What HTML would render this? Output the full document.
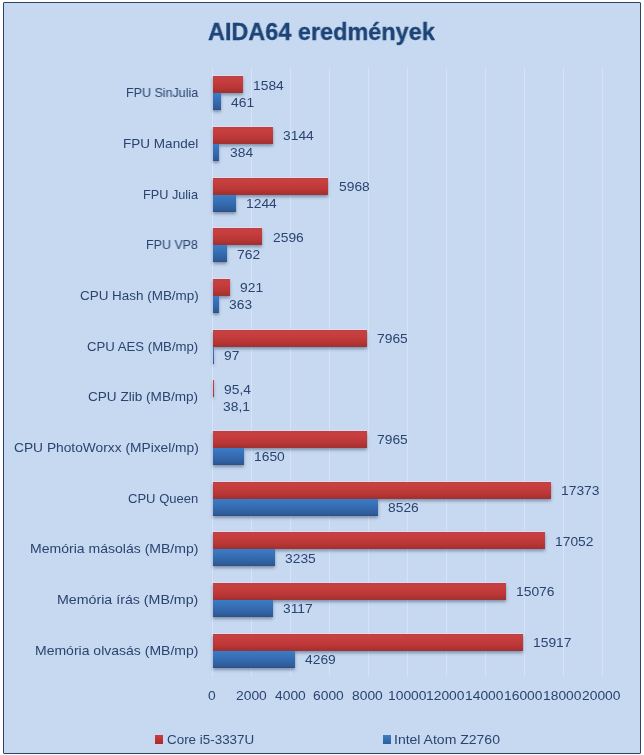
<!DOCTYPE html><html><head><meta charset="utf-8"><style>
html,body{margin:0;padding:0;background:#fff;width:644px;height:755px;overflow:hidden}
.t{position:absolute;font-family:"Liberation Sans",sans-serif;line-height:0;height:0;white-space:nowrap;transform-origin:0 0;will-change:transform}
.frame{position:absolute;left:3px;top:2px;width:636px;height:750px;border:1px solid #2b4365;border-radius:1px;background:#c7d9f1}
.g{position:absolute;top:68.0px;height:608.0px;width:1px;background:#d5e3fa}
.r{position:absolute;background:linear-gradient(#9a4852,#c84141 1px,#c53d3d 35%,#b93636 70%,#a8302d 92%,#8f3a42);box-shadow:0 -1px 0 rgba(250,215,235,.75),0 2px 3px rgba(40,55,85,.45)}
.b{position:absolute;background:linear-gradient(#3c7ac4,#3a77c0 15%,#346bb0 50%,#2f5c9a 88%,#2b4f82);box-shadow:0 2px 3px rgba(40,55,85,.45)}
</style></head><body>
<div class="frame"></div>
<div class="g" style="left:212.40px"></div>
<div class="g" style="left:251.35px"></div>
<div class="g" style="left:290.30px"></div>
<div class="g" style="left:329.25px"></div>
<div class="g" style="left:368.20px"></div>
<div class="g" style="left:407.15px"></div>
<div class="g" style="left:446.10px"></div>
<div class="g" style="left:485.05px"></div>
<div class="g" style="left:524.00px"></div>
<div class="g" style="left:562.95px"></div>
<div class="g" style="left:601.90px"></div>
<div class="r" style="left:213.00px;top:76.44px;width:29.72px;height:16.89px"></div>
<div class="b" style="left:213.00px;top:93.33px;width:7.80px;height:16.89px"></div>
<div class="r" style="left:213.00px;top:127.11px;width:60.17px;height:16.89px"></div>
<div class="b" style="left:213.00px;top:144.00px;width:6.30px;height:16.89px"></div>
<div class="r" style="left:213.00px;top:177.78px;width:115.30px;height:16.89px"></div>
<div class="b" style="left:213.00px;top:194.67px;width:23.08px;height:16.89px"></div>
<div class="r" style="left:213.00px;top:228.44px;width:49.47px;height:16.89px"></div>
<div class="b" style="left:213.00px;top:245.33px;width:13.67px;height:16.89px"></div>
<div class="r" style="left:213.00px;top:279.11px;width:16.78px;height:16.89px"></div>
<div class="b" style="left:213.00px;top:296.00px;width:5.89px;height:16.89px"></div>
<div class="r" style="left:213.00px;top:329.78px;width:154.28px;height:16.89px"></div>
<div class="b" style="left:213.00px;top:346.67px;width:1.00px;height:16.89px"></div>
<div class="r" style="left:213.00px;top:380.44px;width:1.00px;height:16.89px"></div>
<div class="r" style="left:213.00px;top:431.11px;width:154.28px;height:16.89px"></div>
<div class="b" style="left:213.00px;top:448.00px;width:31.01px;height:16.89px"></div>
<div class="r" style="left:213.00px;top:481.78px;width:337.92px;height:16.89px"></div>
<div class="b" style="left:213.00px;top:498.67px;width:165.23px;height:16.89px"></div>
<div class="r" style="left:213.00px;top:532.44px;width:331.66px;height:16.89px"></div>
<div class="b" style="left:213.00px;top:549.33px;width:61.95px;height:16.89px"></div>
<div class="r" style="left:213.00px;top:583.11px;width:293.08px;height:16.89px"></div>
<div class="b" style="left:213.00px;top:600.00px;width:59.64px;height:16.89px"></div>
<div class="r" style="left:213.00px;top:633.78px;width:309.50px;height:16.89px"></div>
<div class="b" style="left:213.00px;top:650.67px;width:82.13px;height:16.89px"></div>
<div class="t" style="left:125.50px;top:93.00px;font-size:12.7px;color:#2a4470;transform:scaleX(0.9849)">FPU SinJulia</div>
<div class="t" style="left:123.42px;top:144.00px;font-size:12.7px;color:#2a4470;transform:scaleX(1.0668)">FPU Mandel</div>
<div class="t" style="left:143.29px;top:195.00px;font-size:12.7px;color:#2a4470;transform:scaleX(0.9912)">FPU Julia</div>
<div class="t" style="left:146.40px;top:245.00px;font-size:12.7px;color:#2a4470;transform:scaleX(0.9823)">FPU VP8</div>
<div class="t" style="left:79.83px;top:296.00px;font-size:12.7px;color:#2a4470;transform:scaleX(1.0592)">CPU Hash (MB/mp)</div>
<div class="t" style="left:87.34px;top:347.00px;font-size:12.7px;color:#2a4470;transform:scaleX(1.0379)">CPU AES (MB/mp)</div>
<div class="t" style="left:88.42px;top:397.00px;font-size:12.7px;color:#2a4470;transform:scaleX(1.0699)">CPU Zlib (MB/mp)</div>
<div class="t" style="left:13.61px;top:448.00px;font-size:12.7px;color:#2a4470;transform:scaleX(1.0847)">CPU PhotoWorxx (MPixel/mp)</div>
<div class="t" style="left:128.25px;top:499.00px;font-size:12.7px;color:#2a4470;transform:scaleX(1.0275)">CPU Queen</div>
<div class="t" style="left:30.08px;top:549.00px;font-size:12.7px;color:#2a4470;transform:scaleX(1.1061)">Memória másolás (MB/mp)</div>
<div class="t" style="left:57.26px;top:600.00px;font-size:12.7px;color:#2a4470;transform:scaleX(1.1200)">Memória írás (MB/mp)</div>
<div class="t" style="left:35.08px;top:651.00px;font-size:12.7px;color:#2a4470;transform:scaleX(1.1036)">Memória olvasás (MB/mp)</div>
<div class="t" style="left:252.92px;top:86px;font-size:12.7px;color:#2a4470;transform:scaleX(1.09)">1584</div>
<div class="t" style="left:231.00px;top:103px;font-size:12.7px;color:#2a4470;transform:scaleX(1.09)">461</div>
<div class="t" style="left:283.37px;top:136px;font-size:12.7px;color:#2a4470;transform:scaleX(1.09)">3144</div>
<div class="t" style="left:229.50px;top:153px;font-size:12.7px;color:#2a4470;transform:scaleX(1.09)">384</div>
<div class="t" style="left:338.50px;top:187px;font-size:12.7px;color:#2a4470;transform:scaleX(1.09)">5968</div>
<div class="t" style="left:246.28px;top:204px;font-size:12.7px;color:#2a4470;transform:scaleX(1.09)">1244</div>
<div class="t" style="left:272.67px;top:238px;font-size:12.7px;color:#2a4470;transform:scaleX(1.09)">2596</div>
<div class="t" style="left:236.87px;top:255px;font-size:12.7px;color:#2a4470;transform:scaleX(1.09)">762</div>
<div class="t" style="left:239.98px;top:288px;font-size:12.7px;color:#2a4470;transform:scaleX(1.09)">921</div>
<div class="t" style="left:229.09px;top:305px;font-size:12.7px;color:#2a4470;transform:scaleX(1.09)">363</div>
<div class="t" style="left:377.48px;top:339px;font-size:12.7px;color:#2a4470;transform:scaleX(1.09)">7965</div>
<div class="t" style="left:223.89px;top:356px;font-size:12.7px;color:#2a4470;transform:scaleX(1.09)">97</div>
<div class="t" style="left:223.86px;top:390px;font-size:12.7px;color:#2a4470;transform:scaleX(1.09)">95,4</div>
<div class="t" style="left:222.74px;top:407px;font-size:12.7px;color:#2a4470;transform:scaleX(1.09)">38,1</div>
<div class="t" style="left:377.48px;top:440px;font-size:12.7px;color:#2a4470;transform:scaleX(1.09)">7965</div>
<div class="t" style="left:254.21px;top:457px;font-size:12.7px;color:#2a4470;transform:scaleX(1.09)">1650</div>
<div class="t" style="left:561.12px;top:491px;font-size:12.7px;color:#2a4470;transform:scaleX(1.09)">17373</div>
<div class="t" style="left:388.43px;top:508px;font-size:12.7px;color:#2a4470;transform:scaleX(1.09)">8526</div>
<div class="t" style="left:554.86px;top:542px;font-size:12.7px;color:#2a4470;transform:scaleX(1.09)">17052</div>
<div class="t" style="left:285.15px;top:559px;font-size:12.7px;color:#2a4470;transform:scaleX(1.09)">3235</div>
<div class="t" style="left:516.28px;top:592px;font-size:12.7px;color:#2a4470;transform:scaleX(1.09)">15076</div>
<div class="t" style="left:282.84px;top:609px;font-size:12.7px;color:#2a4470;transform:scaleX(1.09)">3117</div>
<div class="t" style="left:532.70px;top:643px;font-size:12.7px;color:#2a4470;transform:scaleX(1.09)">15917</div>
<div class="t" style="left:305.33px;top:660px;font-size:12.7px;color:#2a4470;transform:scaleX(1.09)">4269</div>
<div class="t" style="left:208.15px;top:696px;font-size:12.7px;color:#2a4470;transform:scaleX(1.09)">0</div>
<div class="t" style="left:235.56px;top:696px;font-size:12.7px;color:#2a4470;transform:scaleX(1.09)">2000</div>
<div class="t" style="left:274.51px;top:696px;font-size:12.7px;color:#2a4470;transform:scaleX(1.09)">4000</div>
<div class="t" style="left:313.46px;top:696px;font-size:12.7px;color:#2a4470;transform:scaleX(1.09)">6000</div>
<div class="t" style="left:352.41px;top:696px;font-size:12.7px;color:#2a4470;transform:scaleX(1.09)">8000</div>
<div class="t" style="left:387.51px;top:696px;font-size:12.7px;color:#2a4470;transform:scaleX(1.09)">10000</div>
<div class="t" style="left:426.46px;top:696px;font-size:12.7px;color:#2a4470;transform:scaleX(1.09)">12000</div>
<div class="t" style="left:465.41px;top:696px;font-size:12.7px;color:#2a4470;transform:scaleX(1.09)">14000</div>
<div class="t" style="left:504.36px;top:696px;font-size:12.7px;color:#2a4470;transform:scaleX(1.09)">16000</div>
<div class="t" style="left:543.31px;top:696px;font-size:12.7px;color:#2a4470;transform:scaleX(1.09)">18000</div>
<div class="t" style="left:582.26px;top:696px;font-size:12.7px;color:#2a4470;transform:scaleX(1.09)">20000</div>
<div class="t" style="left:207.70px;top:32.00px;font-size:24.6px;font-weight:bold;-webkit-text-stroke:0.35px #1c4476;color:#1c4476;transform:scaleX(0.9534)">AIDA64 eredmények</div>
<div style="position:absolute;left:155px;top:735.2px;width:8.2px;height:8.4px;background:linear-gradient(#d13c3e,#a92a2b)"></div>
<div style="position:absolute;left:383.3px;top:735.2px;width:7.6px;height:8.4px;background:linear-gradient(#3d7fc8,#2d5d9c)"></div>
<div class="t" style="left:166.73px;top:740.00px;font-size:12.7px;color:#2a4470;transform:scaleX(1.0565)">Core i5-3337U</div>
<div class="t" style="left:393.84px;top:740.00px;font-size:12.7px;color:#2a4470;transform:scaleX(1.1043)">Intel Atom Z2760</div>
</body></html>
